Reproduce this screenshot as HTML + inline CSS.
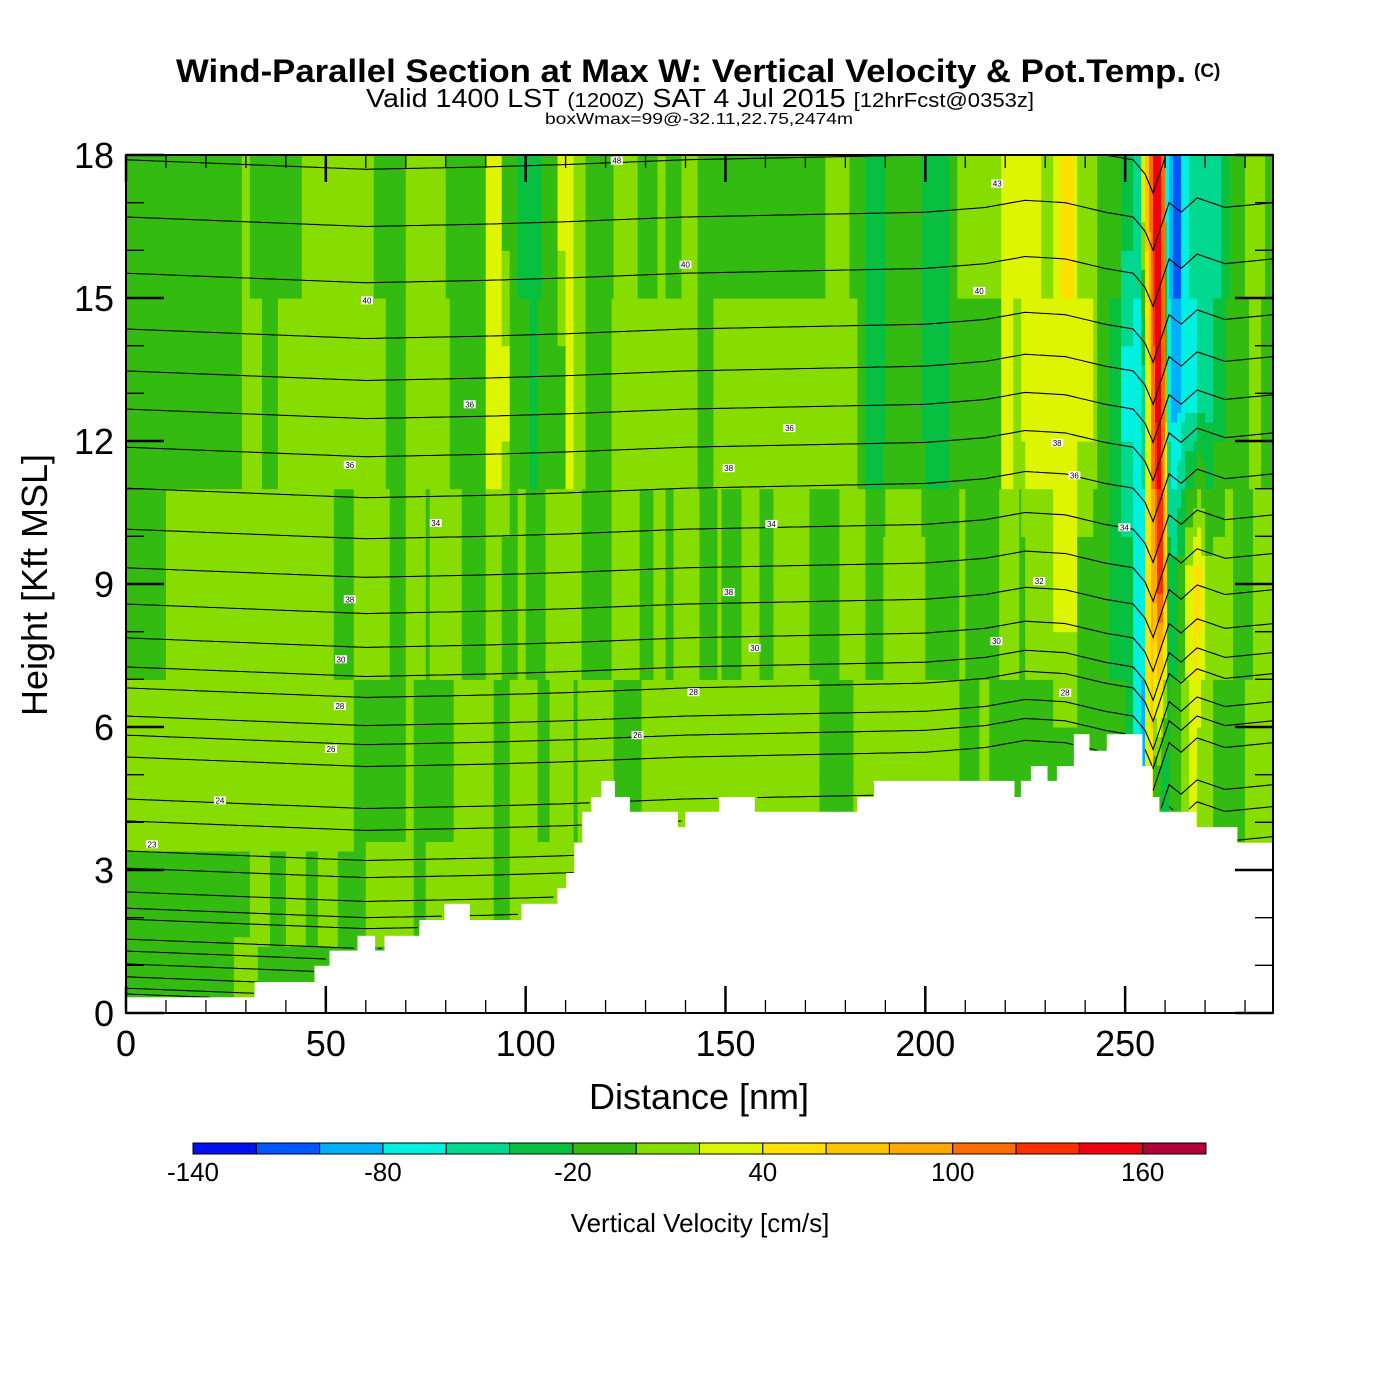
<!DOCTYPE html>
<html><head><meta charset="utf-8"><style>
html,body{margin:0;padding:0;background:#fff;}
svg{display:block;font-family:"Liberation Sans",Arial,sans-serif;}
</style></head><body>
<svg id="chart" width="1400" height="1400" viewBox="0 0 1400 1400" xmlns="http://www.w3.org/2000/svg">
<rect x="0" y="0" width="1400" height="1400" fill="#fff"/>
<text x="176" y="82" font-size="32" font-weight="bold" textLength="1010" lengthAdjust="spacingAndGlyphs">Wind-Parallel Section at Max W: Vertical Velocity &amp; Pot.Temp.</text>
<text x="1194" y="77" font-size="19" font-weight="bold">(C)</text>
<text x="366" y="107" font-size="26" textLength="668" lengthAdjust="spacingAndGlyphs">Valid 1400 LST <tspan font-size="20">(1200Z)</tspan> SAT 4 Jul 2015 <tspan font-size="20">[12hrFcst@0353z]</tspan></text>
<text x="545" y="124" font-size="16" textLength="308" lengthAdjust="spacingAndGlyphs">boxWmax=99@-32.11,22.75,2474m</text>
<g id="field"></g>
<g id="contours"></g>
<g id="terrain"></g>
<g id="clabels"></g>
<g id="axes"></g>
<g id="cbar"></g>
<text x="699" y="1109" font-size="36" text-anchor="middle">Distance [nm]</text>
<text transform="translate(47,585) rotate(-90)" font-size="36" text-anchor="middle">Height [Kft MSL]</text>
<text x="700" y="1232" font-size="26" text-anchor="middle">Vertical Velocity [cm/s]</text>
</svg>
<script>
// ---- data ----
const colorBins = ["#0010f0","#0058ff","#00b0ff","#00f0e0","#00d890","#08c040","#33bb11","#88dd00","#ddf500","#ffe000","#ffc400","#ffa800","#ff6c00","#ff3000","#f00010","#b00038"];
const cbarTicks = [-140,-80,-20,40,100,160];
const xTicks = [0,50,100,150,200,250];
const yTicks = [0,3,6,9,12,15,18];
const levelHeights = [1,2,5,9,13,17];
const l1Starts = [0,27,33];
const l1Vals = [-10,10,-10];
const l2Starts = [0,31,36,40,45,48,53,60,72,75,92,96];
const l2Vals = [-10,10,-10,10,-10,10,-10,10,-10,10,-10,10];
const l5Starts = [0,57,70,72,82,92,96,103,106,112,113,122,129,173.5,182,208.5,213.5,216,250,252,254,255,256,257,259,261,264,266,268,272,280];
const l5Vals = [10,-10,10,-10,10,-10,10,-10,10,-10,10,-10,10,-10,10,-10,10,-10,-30,-70,-90,30,50,-10,-30,-10,10,30,10,-10,10];
const l9Starts = [0,10,52,57,66,70,75,76,84,90,94,98,100,105,114,121.5,128.5,132,135,137,143.5,148,149,154,158.5,162,171,178.5,185,189.5,200,208.5,210,218.5,223.5,225,232,238,246,252,255,256.5,258,259.5,260.5,263,265,267,269,270,277,282];
const l9Vals = [-10,10,-10,10,-10,10,-10,10,-10,10,-10,10,-10,10,-10,10,-10,10,-10,10,-10,10,-10,10,-10,10,-10,10,-10,10,-10,10,-10,10,-10,10,30,-10,-30,-70,50,90,130,70,-30,-10,30,50,30,10,-10,10];
const l13Starts = [0,29,34,38,65,70,81,90,96,101,103,110,112,115,121.5,143,147,183,185,190,199,206,219,222,224,242,243,246,249,254,255,256,256.7,257.5,259,260,260.5,261.5,264,268,272,275,281,284];
const l13Vals = [-10,10,-10,10,-10,10,-10,30,-10,-30,-10,30,10,-10,10,-10,10,-10,-30,-10,-30,-10,30,10,30,10,-10,-30,-70,-50,30,50,110,150,110,10,-70,-90,-70,-50,-30,-10,10,-10];
const l17Starts = [0,29,31,44,62,70,80,90,94,98,104,108,112,115,122,128,133,135,139,143,175,181,185,190,199,206,208,219,229,232,234,237,238,243,249,252,254,255,256,257,259,260,261,262,264,266,271,274,276,280,285];
const l17Vals = [-10,10,-10,10,-10,10,-10,30,-10,-30,-10,30,10,-10,10,-10,10,-10,10,-10,10,-10,-30,-10,-30,-10,10,30,10,30,50,30,10,-10,-30,-50,30,70,110,150,110,-70,-90,-110,-70,-50,-50,-30,-10,10,-10];
const terrainStarts = [0,32.25,47.25,51,58,62.25,64.75,73.5,79.75,86,99,108,110.25,112.25,114.25,116.5,119,122.25,126,138,140,148.5,157.25,183,187.25,222.25,224,226.5,230.5,233,237.25,241,245.5,254.25,256.75,258.5,267.75,278];
const terrainHeights = [0.33,0.65,0.99,1.31,1.62,1.31,1.62,1.95,2.29,1.95,2.29,2.62,2.94,3.57,4.22,4.53,4.87,4.53,4.22,3.9,4.22,4.53,4.22,4.53,4.87,4.53,4.87,5.18,4.87,5.18,5.85,5.5,5.85,5.18,4.53,4.22,3.9,3.57];
const thetaBase = [17.9,16.70,15.52,14.35,13.47,12.67,11.87,11.01,10.15,9.34,8.58,7.87,7.26,6.82,6.23,5.83,5.37,4.49,4.03,3.40,3.04,2.54,2.20,1.97,1.55,1.30,1.03,0.76,0.52,0.40];
const dispX = [0,30,60,90,110,140,170,200,215,225,235,245,252,255,257,259,261,264,268,275,287];
const dispV = [0,-0.1,-0.2,-0.15,-0.1,0,0.05,0.1,0.2,0.35,0.3,0.1,0,-0.3,-0.7,-0.2,0.3,0.1,0.4,0.2,0.3];
const labelText = ["48","40","40","43","40","36","36","38","36","38","34","34","36","34","38","38","32","30","30","30","28","28","28","26","26","24","23"];
const labelDist = [122.8,60.3,140,218,213.5,86,166,233,56,150.8,77.5,161.5,237.3,249.8,56,150.8,228.5,53.8,157.3,217.8,53.5,142,235,51.3,128,23.5,6.5];
const labelHt = [17.88,14.95,15.7,17.4,15.15,12.77,12.27,11.96,11.5,11.43,10.28,10.26,11.28,10.19,8.68,8.83,9.06,7.42,7.66,7.8,6.44,6.73,6.72,5.54,5.83,4.46,3.54];

// ---- scales ----
const X0=126, X1=1273, Y0=1013, Y1=155, XMAX=287, HMAX=18;
const X = d => X0 + (X1-X0)*d/XMAX;
const Y = h => Y0 - (Y0-Y1)*h/HMAX;
const NS="http://www.w3.org/2000/svg";
const levelStarts=[l1Starts,l2Starts,l5Starts,l9Starts,l13Starts,l17Starts];
const levelVals=[l1Vals,l2Vals,l5Vals,l9Vals,l13Vals,l17Vals];
function stepLookup(starts, vals, d){let v=vals[0];for(let i=0;i<starts.length;i++){if(d>=starts[i])v=vals[i];else break;}return v;}
function wAt(d,h){
  const L=levelHeights;
  if(h<=L[0]) return stepLookup(levelStarts[0],levelVals[0],d);
  if(h>=L[L.length-1]) return stepLookup(levelStarts[L.length-1],levelVals[L.length-1],d);
  let i=0; while(h>L[i+1]) i++;
  const t=(h-L[i])/(L[i+1]-L[i]);
  const a=stepLookup(levelStarts[i],levelVals[i],d), b=stepLookup(levelStarts[i+1],levelVals[i+1],d);
  return a+(b-a)*t;
}
function binOf(v){let k=Math.floor((v+140)/20);return Math.max(0,Math.min(15,k));}
function terrainAt(d){return stepLookup(terrainStarts,terrainHeights,d);}
function lin(xs,vs,d){if(d<=xs[0])return vs[0];for(let i=0;i<xs.length-1;i++){if(d<=xs[i+1]){const t=(d-xs[i])/(xs[i+1]-xs[i]);return vs[i]+(vs[i+1]-vs[i])*t;}}return vs[vs.length-1];}

// ---- field ----
const field=document.getElementById('field');
const dh=0.2, dd=0.5;
for(let h=0;h<HMAX-1e-9;h+=dh){
  let runStart=0, runBin=null;
  for(let d=0;d<=XMAX+1e-9;d+=dd){
    const end = d>=XMAX-1e-9;
    const b = end?null:binOf(wAt(d+dd/2,h+dh/2));
    if(b!==runBin){
      if(runBin!==null){
        const r=document.createElementNS(NS,'rect');
        
        
        const x0=X(runStart), x1=Math.min(X(d),X1);
        r.setAttribute('x',x0.toFixed(1));r.setAttribute('y',Y(h+dh).toFixed(1));
        r.setAttribute('width',(x1-x0+0.6).toFixed(1));r.setAttribute('height',(Y(h)-Y(h+dh)+0.6).toFixed(1));
        r.setAttribute('fill',colorBins[runBin]);
        field.appendChild(r);
      }
      runStart=d; runBin=b;
    }
    if(end)break;
  }
}

// ---- contours ----
const cg=document.getElementById('contours');
thetaBase.forEach(base=>{
  let pts=[];
  const flush=()=>{ if(pts.length>1){const p=document.createElementNS(NS,'polyline');
    
    
    p.setAttribute('points',pts.join(' '));p.setAttribute('fill','none');p.setAttribute('stroke','#000');p.setAttribute('stroke-width','1.1');cg.appendChild(p);} pts=[]; };
  for(let d=0;d<=XMAX;d+=1){
    const h=base+lin(dispX,dispV,d);
    if(h<terrainAt(d)||h>HMAX){flush();continue;}
    pts.push(X(d).toFixed(1)+','+Y(h).toFixed(1));
  }
  flush();
});

// ---- terrain ----
const tg=document.getElementById('terrain');
terrainStarts.forEach((s,i)=>{
  const e = i<terrainStarts.length-1?terrainStarts[i+1]:XMAX;
  const r=document.createElementNS(NS,'rect');
  
  
  r.setAttribute('x',(X(s)-0.3).toFixed(1));r.setAttribute('width',(X(e)-X(s)+0.6).toFixed(1));
  r.setAttribute('y',Y(terrainHeights[i]).toFixed(1));r.setAttribute('height',(Y0-Y(terrainHeights[i])).toFixed(1));
  r.setAttribute('fill','#fff');tg.appendChild(r);
});

// ---- contour labels ----
const lg=document.getElementById('clabels');
labelText.forEach((t,i)=>{
  const x=X(labelDist[i]), y=Y(labelHt[i]);
  const r=document.createElementNS(NS,'rect');
  
  
  r.setAttribute('x',x-6);r.setAttribute('y',y-4);r.setAttribute('width',12);r.setAttribute('height',8);r.setAttribute('fill','#fff');lg.appendChild(r);
  const tx=document.createElementNS(NS,'text');
  
  
  tx.setAttribute('x',x);tx.setAttribute('y',y+3);tx.setAttribute('font-size','8');tx.setAttribute('text-anchor','middle');tx.textContent=t;lg.appendChild(tx);
});

// ---- axes ----
const ag=document.getElementById('axes');
function line(x1,y1,x2,y2,w,name){const l=document.createElementNS(NS,'line');
  
  
  l.setAttribute('x1',x1);l.setAttribute('y1',y1);l.setAttribute('x2',x2);l.setAttribute('y2',y2);l.setAttribute('stroke','#000');l.setAttribute('stroke-width',w);ag.appendChild(l);}
for(let d=0;d<=XMAX;d+=10){const maj=d%50===0;const len=maj?27:13;
  line(X(d),Y0,X(d),Y0-len,maj?2.5:1.3,'x-tick');line(X(d),Y1,X(d),Y1+len,maj?2.5:1.3,'x-tick');}
for(let h=0;h<=HMAX;h+=1){const maj=h%3===0;const len=maj?38:18;
  line(X0,Y(h),X0+len,Y(h),maj?2.5:1.3,'y-tick');line(X1,Y(h),X1-len,Y(h),maj?2.5:1.3,'y-tick');}
const fr=document.createElementNS(NS,'rect');


fr.setAttribute('x',X0);fr.setAttribute('y',Y1);fr.setAttribute('width',X1-X0);fr.setAttribute('height',Y0-Y1);fr.setAttribute('fill','none');fr.setAttribute('stroke','#000');fr.setAttribute('stroke-width','2');ag.appendChild(fr);
xTicks.forEach(v=>{const t=document.createElementNS(NS,'text');
  
  
  t.setAttribute('x',X(v));t.setAttribute('y',1056);t.setAttribute('font-size','36');t.setAttribute('text-anchor','middle');t.textContent=v;ag.appendChild(t);});
yTicks.forEach(v=>{const t=document.createElementNS(NS,'text');
  
  
  t.setAttribute('x',114);t.setAttribute('y',Y(v)+13);t.setAttribute('font-size','36');t.setAttribute('text-anchor','end');t.textContent=v;ag.appendChild(t);});

// ---- colorbar ----
const cb=document.getElementById('cbar');
const CB0=193, CB1=1206, CBY=1143, CBH=11, cw=(CB1-CB0)/colorBins.length;
colorBins.forEach((c,i)=>{const r=document.createElementNS(NS,'rect');
  
  
  r.setAttribute('x',CB0+i*cw);r.setAttribute('y',CBY);r.setAttribute('width',cw);r.setAttribute('height',CBH);r.setAttribute('fill',c);r.setAttribute('stroke','#000');r.setAttribute('stroke-width','1');cb.appendChild(r);});
const cbv = v => CB0 + (v+140)/20*cw;
cbarTicks.forEach(v=>{const t=document.createElementNS(NS,'text');
  
  
  t.setAttribute('x',cbv(v));t.setAttribute('y',1181);t.setAttribute('font-size','26');t.setAttribute('text-anchor','middle');t.textContent=v;cb.appendChild(t);});
</script>
</body></html>
